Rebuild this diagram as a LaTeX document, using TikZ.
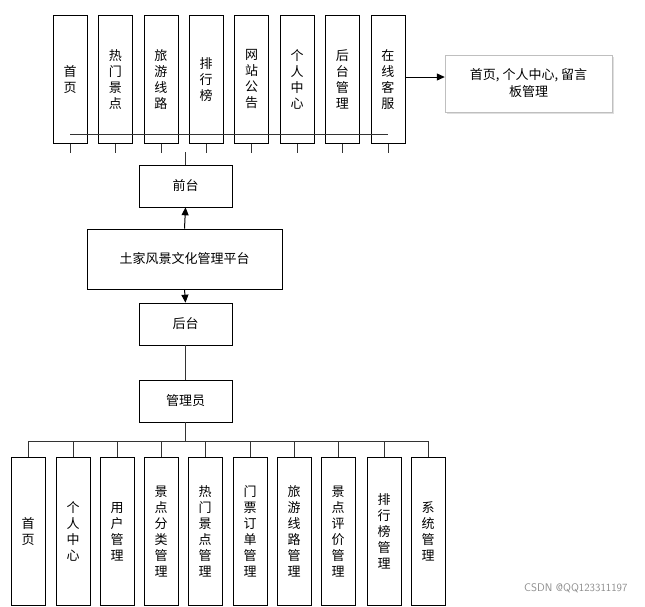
\documentclass[tikz,border=0pt]{standalone}
\usepackage{fontspec}
\newfontfamily\cjk{Noto Sans CJK SC}
\usetikzlibrary{shadows,arrows.meta}
\begin{document}
\begin{tikzpicture}[x=1pt,y=-1pt,
  vbox/.style={draw=black,line width=0.6pt,minimum width=34pt,align=center,font=\cjk\fontsize{13}{16}\selectfont,inner sep=0pt},
  hbox/.style={draw=black,line width=0.6pt,minimum width=93pt,minimum height=42pt,font=\cjk\fontsize{13}{16}\selectfont},
  ln/.style={line width=0.6pt,draw=black!80},
  arr/.style={line width=1pt,-{Triangle[length=8pt,width=7pt]}}]
\useasboundingbox (0,0) rectangle (645,606);
% top row
\foreach \i/\t in {1/首\\页,2/热\\门\\景\\点,3/旅\\游\\线\\路,4/排\\行\\榜,5/网\\站\\公\\告,6/个\\人\\中\\心,7/后\\台\\管\\理,8/在\\线\\客\\服}{
  \node[vbox,minimum height=128pt,anchor=north] (t\i) at ({70+45.4*(\i-1)},15) {\t};
  \draw[ln] (t\i.south) -- ++(0,9);
}
\draw[ln] ([yshift=9pt]t1.south) -- ([yshift=9pt]t8.south);
\node[draw=black!25,fill=white,drop shadow={opacity=0.25,shadow xshift=2pt,shadow yshift=-2pt},minimum width=167pt,minimum height=57pt,align=center,font=\cjk\fontsize{13}{17}\selectfont] (side) at (528.5,83.5) {首页, 个人中心, 留言\\板管理};
\draw[arr] (t8.east |- 0,77) -- (side.west |- 0,77);
\node[hbox] (qt) at (185.5,186) {前台};
\draw[ln] (qt.north) -- (185.5,152);
\node[hbox,minimum width=195pt,minimum height=60pt] (pt) at (184.5,259) {土家风景文化管理平台};
\draw[arr] (pt.north) -- (qt.south);
\node[hbox] (ht) at (185.5,324) {后台};
\draw[arr] (pt.south) -- (ht.north);
\node[hbox] (gl) at (185.5,401) {管理员};
\draw[ln] (ht.south) -- (gl.north);
\draw[ln] (gl.south) -- (185.5,441);
\foreach \i/\t/\x in {1/首\\页/28,2/个\\人\\中\\心/73,3/用\\户\\管\\理/117,4/景\\点\\分\\类\\管\\理/161,5/热\\门\\景\\点\\管\\理/205,6/门\\票\\订\\单\\管\\理/250,7/旅\\游\\线\\路\\管\\理/294,8/景\\点\\评\\价\\管\\理/338,9/排\\行\\榜\\管\\理/384,10/系\\统\\管\\理/428}{
  \node[vbox,minimum height=148pt,anchor=north] (b\i) at (\x,457) {\t};
  \draw[ln] (b\i.north) -- (\x,441);
}
\draw[ln] (28,441) -- (428,441);
\node[text=black!45,font=\fontsize{11}{13}\selectfont\sffamily,anchor=east] (wm) at (631,588) {CSDN @QQ123311197};
\end{tikzpicture}
\end{document}
